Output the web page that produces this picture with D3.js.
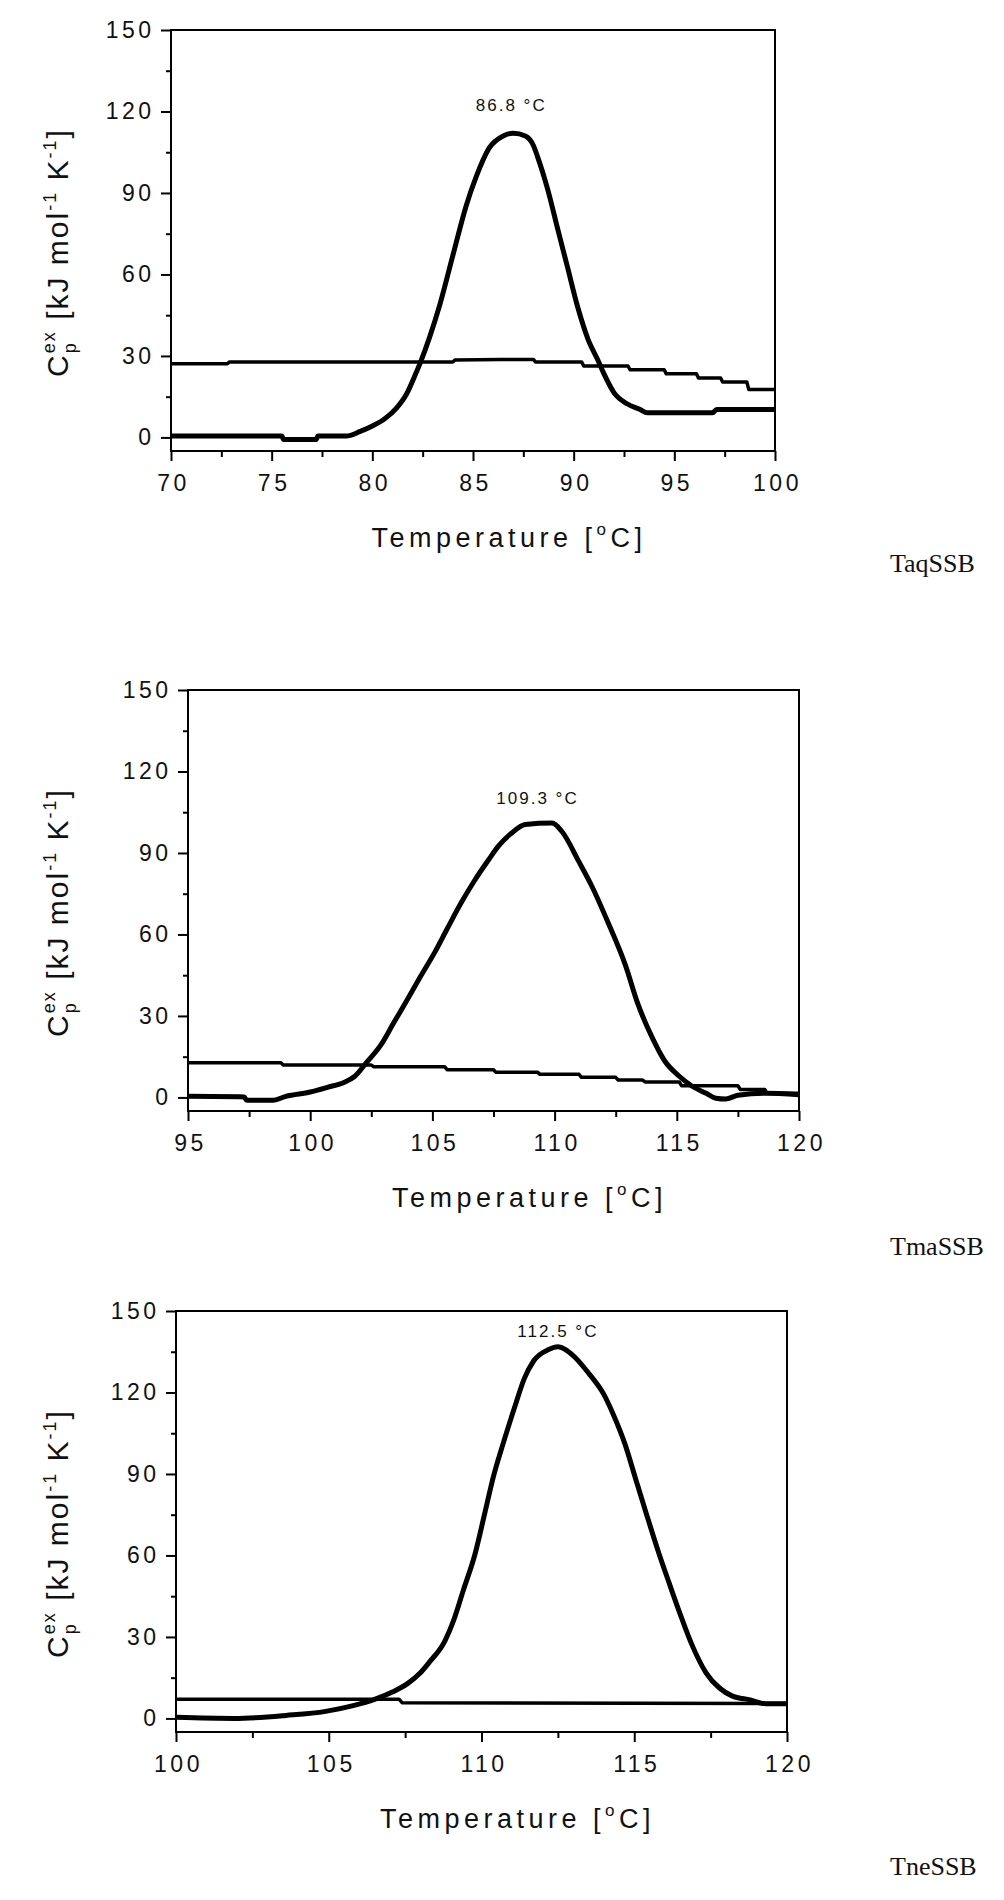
<!DOCTYPE html>
<html><head><meta charset="utf-8">
<script src="https://cdn.jsdelivr.net/npm/d3@7"></script>
<style>body{margin:0;background:#fff;} svg{display:block;}</style>
</head><body>
<svg id="c" width="1004" height="1900"></svg>
<script>
// ---- data ----
const taqPeakT  = [70, 75.5, 75.6, 77.2, 77.3, 78.7, 79.4, 80.0, 80.6, 81.2, 81.7, 82.1, 82.4, 82.85, 83.35, 84.0, 84.67, 85.16, 85.8, 86.5, 87.0, 87.6, 88.0, 88.2, 88.7, 89.2, 89.7, 90.2, 90.7, 91.2, 91.5, 92.0, 92.65, 93.3, 93.65, 96.9, 97.1, 100];
const taqPeakCp = [0.5, 0.5, -0.8, -0.8, 0.5, 0.5, 2.2, 4.2, 6.8, 10.8, 16, 22.5, 27.8, 37, 48.8, 67, 85.5, 96, 106.5, 111, 112, 111, 107.5, 103.5, 91.6, 77, 62.5, 48, 36.4, 28.5, 23.5, 16.5, 12.4, 10.3, 9.1, 9.1, 10.3, 10.3];
const taqBaseT  = [70, 72.8, 72.9, 84.0, 84.1, 86.4, 88.0, 88.1, 90.4, 90.5, 92.7, 92.8, 94.5, 94.6, 96.1, 96.2, 97.3, 97.4, 98.6, 98.7, 100];
const taqBaseCp = [27.1, 27.1, 27.8, 27.8, 28.5, 28.7, 28.7, 27.8, 27.8, 26.3, 26.3, 24.9, 24.9, 23.4, 23.4, 21.9, 21.9, 20.4, 20.4, 17.6, 17.6];

const tmaPeakT  = [95, 97.3, 97.4, 98.5, 99.0, 100, 100.7, 101.4, 101.8, 102.3, 102.9, 103.4, 104.0, 104.5, 105.1, 105.6, 106.2, 106.7, 107.3, 107.7, 108.2, 108.8, 109.9, 110.3, 111.0, 111.5, 112.2, 112.9, 113.4, 114.0, 114.5, 115.1, 115.6, 116.2, 116.6, 117.0, 117.5, 118.6, 120];
const tmaPeakCp = [0.4, 0.2, -1, -1, 0.4, 2, 3.7, 5.6, 7.6, 12.8, 19.4, 27.2, 36.4, 44.3, 53.5, 62, 72, 79.5, 87.5, 92.5, 97, 100.5, 101, 97.9, 86.7, 78.2, 64.1, 48.6, 34.6, 21.9, 13.5, 7.8, 4.3, 1.5, -0.3, -0.6, 0.8, 1.5, 1];
const tmaBaseT  = [95, 98.8, 98.9, 102.5, 102.6, 105.5, 105.6, 107.5, 107.6, 109.3, 109.4, 111, 111.1, 112.5, 112.6, 113.6, 113.7, 115.1, 115.2, 117.5, 117.6, 118.6, 118.7, 120];
const tmaBaseCp = [12.8, 12.8, 11.9, 11.9, 11.3, 11.3, 10.2, 10.2, 9.3, 9.3, 8.5, 8.5, 7.4, 7.4, 6.4, 6.4, 5.7, 5.7, 4.3, 4.3, 2.9, 2.9, 1.5, 1.5];

const tnePeakT  = [100, 101.9, 103.6, 104.9, 105.8, 106.5, 107.1, 107.6, 108.0, 108.3, 108.8, 109.1, 109.4, 109.8, 110.1, 110.4, 110.7, 111.1, 111.4, 111.7, 112.2, 112.5, 113.0, 113.5, 114.0, 114.3, 114.7, 115.05, 115.4, 115.8, 116.15, 116.5, 116.9, 117.35, 117.8, 118.2, 118.8, 119.3, 120];
const tnePeakCp = [0.4, 0, 1.1, 2.6, 4.7, 7.0, 9.8, 13.0, 16.8, 20.8, 28.5, 36.5, 47, 61, 75.2, 89.5, 100.9, 115.1, 125.1, 131.5, 135.8, 136.8, 133.6, 127.2, 119.4, 112.3, 100.9, 88, 75.2, 61, 49.6, 38.5, 26.8, 16.8, 11.1, 8.3, 6.8, 5.4, 5.4];
const tneBaseT  = [100, 107.3, 107.4, 120];
const tneBaseCp = [7.1, 7.1, 5.8, 5.5];

const proteinNames = ["TaqSSB", "TmaSSB", "TneSSB"];
const peakLabels   = ["86.8 °C", "109.3 °C", "112.5 °C"];
const peakLabelT   = [86.9, 109.3, 112.5];
const peakLabelCp  = [120.2, 108, 140.4];
const xDomains     = [[70, 100], [95, 120], [100, 120]];
const xTickLabels  = [[70, 75, 80, 85, 90, 95, 100], [95, 100, 105, 110, 115, 120], [100, 105, 110, 115, 120]];
const yTickLabels  = [0, 30, 60, 90, 120, 150];
const yDomain      = [-5, 150];

// ---- layout ----
const boxes = [
  {left: 171, right: 775, top: 30,   bottom: 451},
  {left: 188, right: 799, top: 690,  bottom: 1111},
  {left: 176, right: 787, top: 1311, bottom: 1732}
];
const peaks = [[taqPeakT, taqPeakCp], [tmaPeakT, tmaPeakCp], [tnePeakT, tnePeakCp]];
const bases = [[taqBaseT, taqBaseCp], [tmaBaseT, tmaBaseCp], [tneBaseT, tneBaseCp]];

const svg = d3.select("#c");
svg.append("rect").attr("width", 1004).attr("height", 1900).attr("fill", "#fff");
const SANS = "'Liberation Sans', Arial, sans-serif";

boxes.forEach((b, i) => {
  const x = d3.scaleLinear().domain(xDomains[i]).range([b.left, b.right]);
  const y = d3.scaleLinear().domain(yDomain).range([b.bottom, b.top]);
  const g = svg.append("g");

  const xt = xTickLabels[i];
  const xMinor = xt.slice(0, -1).map((v, k) => (v + xt[k + 1]) / 2);
  const yMinor = yTickLabels.slice(0, -1).map((v, k) => (v + yTickLabels[k + 1]) / 2);

  const xMinorAxis = g.append("g").attr("transform", `translate(0,${b.bottom})`)
    .call(d3.axisBottom(x).tickValues(xMinor).tickSize(6).tickFormat(""));
  const yMinorAxis = g.append("g").attr("transform", `translate(${b.left},0)`)
    .call(d3.axisLeft(y).tickValues(yMinor).tickSize(5).tickFormat(""));

  const xAxis = g.append("g").attr("transform", `translate(0,${b.bottom})`)
    .call(d3.axisBottom(x).tickValues(xt).tickSize(10).tickPadding(9).tickFormat(d3.format("d")));
  const yAxis = g.append("g").attr("transform", `translate(${b.left},0)`)
    .call(d3.axisLeft(y).tickValues(yTickLabels).tickSize(10).tickPadding(10).tickFormat(d3.format("d")));

  [xMinorAxis, yMinorAxis, xAxis, yAxis].forEach(a => {
    a.select(".domain").remove();
    a.selectAll("line").attr("stroke", "#000").attr("stroke-width", 2);
  });
  [xAxis, yAxis].forEach(a => a.selectAll("text")
    .attr("font-family", SANS).attr("font-size", 23).attr("fill", "#111")
    .attr("letter-spacing", "3.5px"));
  xAxis.selectAll("text").attr("dy", "0.9em").attr("dx", "2px");
  yAxis.selectAll("text").attr("dx", "3.5px");

  g.append("rect").attr("x", b.left).attr("y", b.top)
    .attr("width", b.right - b.left).attr("height", b.bottom - b.top)
    .attr("fill", "none").attr("stroke", "#000").attr("stroke-width", 2);

  const line = d3.line().x(d => x(d[0])).y(d => y(d[1]));
  const smooth = d3.line().x(d => x(d[0])).y(d => y(d[1])).curve(d3.curveMonotoneX);
  const pk = d3.zip(peaks[i][0], peaks[i][1]);
  const bs = d3.zip(bases[i][0], bases[i][1]);
  g.append("path").datum(bs).attr("d", line).attr("fill", "none")
    .attr("stroke", "#000").attr("stroke-width", 3.5).attr("stroke-linejoin", "round");
  g.append("path").datum(pk).attr("d", smooth).attr("fill", "none")
    .attr("stroke", "#000").attr("stroke-width", 5).attr("stroke-linejoin", "round");

  g.append("text").attr("x", x(peakLabelT[i])).attr("y", y(peakLabelCp[i]))
    .attr("text-anchor", "middle").attr("font-family", SANS).attr("font-size", 17)
    .attr("letter-spacing", "2px").attr("fill", "#111").text(peakLabels[i]);

  const xt2 = g.append("text").attr("x", (b.left + b.right) / 2 + 36).attr("y", b.bottom + 96)
    .attr("text-anchor", "middle").attr("font-family", SANS).attr("font-size", 27)
    .attr("letter-spacing", "4.5px").attr("fill", "#111");
  xt2.append("tspan").text("Temperature [");
  xt2.append("tspan").attr("font-size", 17).attr("dy", -12).text("o");
  xt2.append("tspan").attr("dy", 12).text("C]");

  const yt = g.append("text")
    .attr("transform", `translate(68,${(b.top + b.bottom) / 2 + 12}) rotate(-90)`)
    .attr("text-anchor", "middle").attr("font-family", SANS).attr("font-size", 30)
    .attr("letter-spacing", "2px").attr("fill", "#111");
  yt.append("tspan").text("C");
  yt.append("tspan").attr("font-size", 18).attr("dy", 8).text("p");
  yt.append("tspan").attr("font-size", 18).attr("dx", -12).attr("dy", -21).text("ex");
  yt.append("tspan").attr("dy", 13).text(" [kJ mol");
  yt.append("tspan").attr("font-size", 18).attr("dy", -12).text("-1");
  yt.append("tspan").attr("dy", 12).text(" K");
  yt.append("tspan").attr("font-size", 18).attr("dy", -12).text("-1");
  yt.append("tspan").attr("dy", 12).text("]");

  svg.append("text").attr("x", 890).attr("y", [572, 1255, 1875][i])
    .attr("font-family", "'Liberation Serif', 'Times New Roman', serif").attr("font-size", 26)
    .attr("fill", "#111").text(proteinNames[i]);
});
</script>
</body></html>
